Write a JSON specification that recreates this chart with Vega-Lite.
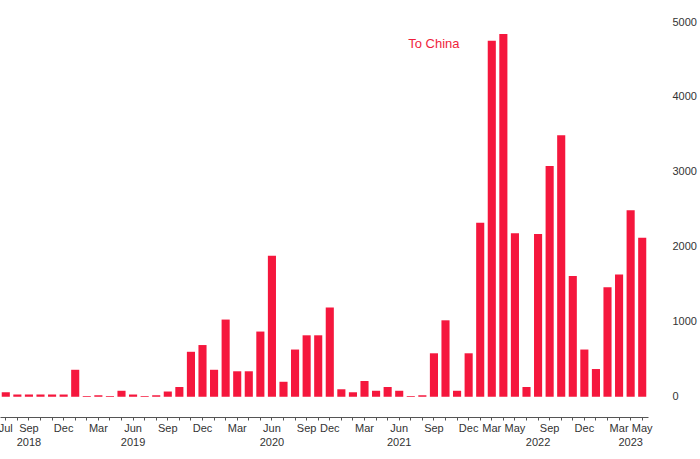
{
  "$schema": "https://vega.github.io/schema/vega-lite/v6.json",
  "width": 648,
  "height": 395,
  "autosize": "none",
  "padding": {"left": 0, "top": 22, "right": 52, "bottom": 42},
  "background": "white",
  "config": {"view": {"stroke": null}, "font": "Liberation Sans"},
  "data": {"values": [
    {"k": "00|Jul|", "v": 60}, {"k": "01||", "v": 30}, {"k": "02|Sep|2018", "v": 30}, {"k": "03||", "v": 30},
    {"k": "04||", "v": 30}, {"k": "05|Dec|", "v": 30}, {"k": "06||", "v": 360}, {"k": "07||", "v": 10},
    {"k": "08|Mar|", "v": 20}, {"k": "09||", "v": 10}, {"k": "10||", "v": 80}, {"k": "11|Jun|2019", "v": 30},
    {"k": "12||", "v": 10}, {"k": "13||", "v": 20}, {"k": "14|Sep|", "v": 70}, {"k": "15||", "v": 130},
    {"k": "16||", "v": 600}, {"k": "17|Dec|", "v": 690}, {"k": "18||", "v": 360}, {"k": "19||", "v": 1030},
    {"k": "20|Mar|", "v": 340}, {"k": "21||", "v": 340}, {"k": "22||", "v": 870}, {"k": "23|Jun|2020", "v": 1880},
    {"k": "24||", "v": 200}, {"k": "25||", "v": 630}, {"k": "26|Sep|", "v": 820}, {"k": "27||", "v": 820},
    {"k": "28|Dec|", "v": 1190}, {"k": "29||", "v": 100}, {"k": "30||", "v": 60}, {"k": "31|Mar|", "v": 210},
    {"k": "32||", "v": 80}, {"k": "33||", "v": 130}, {"k": "34|Jun|2021", "v": 80}, {"k": "35||", "v": 10},
    {"k": "36||", "v": 20}, {"k": "37|Sep|", "v": 580, "t": "To China"}, {"k": "38||", "v": 1020}, {"k": "39||", "v": 80},
    {"k": "40|Dec|", "v": 580}, {"k": "41||", "v": 2320}, {"k": "42|Mar|", "v": 4750}, {"k": "43||", "v": 4840},
    {"k": "44|May|", "v": 2180}, {"k": "45||", "v": 130}, {"k": "46||2022", "v": 2170}, {"k": "47|Sep|", "v": 3080},
    {"k": "48||", "v": 3490}, {"k": "49||", "v": 1610}, {"k": "50|Dec|", "v": 630}, {"k": "51||", "v": 370},
    {"k": "52||", "v": 1460}, {"k": "53|Mar|", "v": 1630}, {"k": "54||2023", "v": 2490}, {"k": "55|May|", "v": 2120}
  ]},
  "encoding": {
    "x": {
      "field": "k", "type": "ordinal", "sort": null,
      "scale": {"paddingInner": 0.3, "paddingOuter": 0.15},
      "axis": {
        "title": null, "labelAngle": 0,
        "labelExpr": "[split(datum.value, '|')[1], split(datum.value, '|')[2]]",
        "labelFontSize": 11, "labelColor": "#333", "labelPadding": 2, "labelLineHeight": 14,
        "tickSize": 3, "tickColor": "#555", "domainColor": "#555"
      }
    },
    "y": {
      "field": "v", "type": "quantitative",
      "scale": {"domain": [-270, 5000], "nice": false},
      "axis": {
        "orient": "right", "title": null, "values": [0, 1000, 2000, 3000, 4000, 5000], "format": "d",
        "grid": false, "domain": false, "ticks": false, "labelPadding": 24,
        "labelFontSize": 11, "labelColor": "#333"
      }
    }
  },
  "layer": [
    {"mark": {"type": "bar", "color": "#f5173d", "y2": {"expr": "scale('y', 0)"}}},
    {
      "transform": [{"filter": "datum.t"}],
      "mark": {"type": "text", "color": "#f01e3c", "fontSize": 13, "align": "center"},
      "encoding": {"text": {"field": "t"}, "y": {"datum": 4700}}
    }
  ]
}
